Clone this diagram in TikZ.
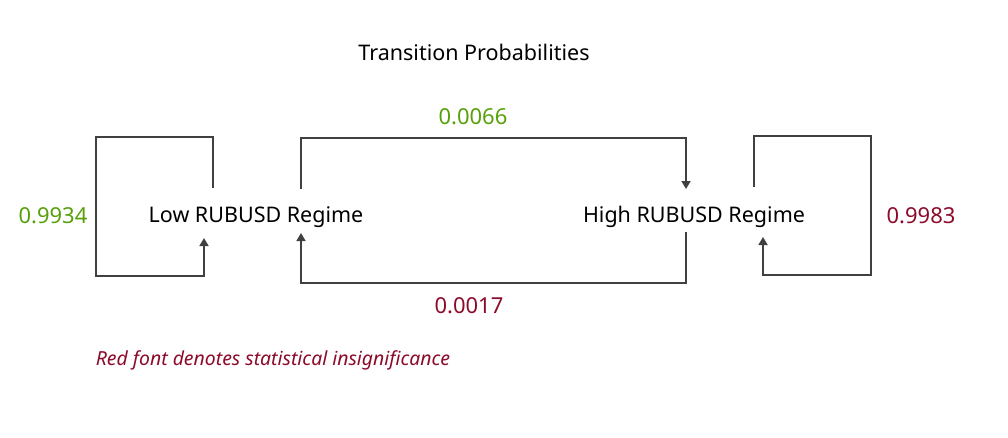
\documentclass[tikz,border=0pt]{standalone}
\usepackage{fontspec}
\setmainfont{Noto Sans}
\usetikzlibrary{arrows.meta}
\definecolor{sig}{RGB}{88,160,10}
\definecolor{insig}{RGB}{140,10,42}
\definecolor{linec}{RGB}{64,64,64}
\tikzset{
  lbl/.style={inner sep=0pt, font=\fontsize{21.5}{25}\selectfont},
  num/.style={lbl, font=\fontsize{22}{26}\selectfont},
  conn/.style={draw=linec, line width=1.7pt},
  arr/.style={conn, -{Triangle[width=9pt,length=8pt]}}
}
\begin{document}
\begin{tikzpicture}[x=1pt,y=-1pt]
\useasboundingbox (0,0) rectangle (1008,437);
\node[lbl] (title) at (474,52) {Transition Probabilities};
\node[lbl] (low) at (256,217) {Low RUBUSD Regime};
\node[lbl] (high) at (694,217) {High RUBUSD Regime};
\node[num, text=sig] (p11) at (53,216) {0.9934};
\node[num, text=insig] (p22) at (921,216) {0.9983};
\node[num, text=sig] (p12) at (473,117) {0.0066};
\node[num, text=insig] (p21) at (469,306) {0.0017};
\node[lbl, text=insig, font=\fontsize{19.4}{23}\selectfont\itshape] (note) at (273,360) {Red font denotes statistical insignificance};
% endpoints
\coordinate (lsA) at (213,188);
\coordinate (lsB) at (204,238);
\coordinate (mtA) at (301,189);
\coordinate (mtB) at (686,189);
\coordinate (mbA) at (686,232);
\coordinate (mbB) at (301,233);
\coordinate (rsA) at (754,187);
\coordinate (rsB) at (763,237);
% self loop low
\draw[arr] (lsA) |- (96,137) |- (204,276) -- (lsB);
% low -> high
\draw[arr] (mtA) |- (686,138) -- (mtB);
% high -> low
\draw[arr] (mbA) |- (301,283) -- (mbB);
% self loop high
\draw[arr] (rsA) |- (871,136) |- (763,275) -- (rsB);
\end{tikzpicture}
\end{document}
